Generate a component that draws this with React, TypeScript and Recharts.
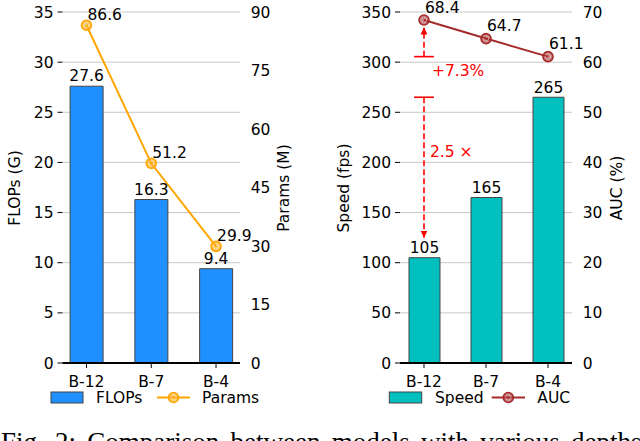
import React from 'react';
import { ComposedChart, Bar, Line, XAxis, YAxis, CartesianGrid, LabelList, ReferenceLine, ReferenceDot } from 'recharts';

const models = ['B-12', 'B-7', 'B-4'];
const flops = [27.6, 16.3, 9.4];
const params = [86.6, 51.2, 29.9];
const speed = [105, 165, 265];
const auc = [68.4, 64.7, 61.1];

const flopsTicks = [0, 5, 10, 15, 20, 25, 30, 35];
const paramsTicks = [0, 15, 30, 45, 60, 75, 90];
const speedTicks = [0, 50, 100, 150, 200, 250, 300, 350];
const aucTicks = [0, 10, 20, 30, 40, 50, 60, 70];

const leftData = models.map((m, i) => ({ idx: i, model: m, flops: flops[i], params: params[i] }));
const rightData = models.map((m, i) => ({ idx: i, model: m, speed: speed[i], auc: auc[i] }));

const FONT = 'DejaVu Sans';
const FS = 15.5;
const BLUE = '#1e90ff';
const CYAN = '#00bfbf';
const ORANGE = '#ffa500';
const BROWN = '#a52a2a';
const RED = '#ff0000';
const GRID = '#c8c8c8';
const EDGE = '#444';

const tickStyle = { fill: '#000', fontSize: FS, fontFamily: FONT };

const Marker = ({ cx, cy, color }: any) => (
  <g>
    <circle cx={cx} cy={cy} r={5} fill={color} fillOpacity={0.6} stroke={color} strokeWidth={1.6} />
    <circle cx={cx} cy={cy} r={2.6} fill="none" stroke="#fff" strokeOpacity={0.8} strokeWidth={0.8} strokeDasharray="1.3 1.1" />
  </g>
);

const dotFor = (color: string) => (p: any) => <Marker key={p.index} cx={p.cx} cy={p.cy} color={color} />;

const pointLabel = (lift: number) => (p: any) => {
  const vb = p.viewBox || {};
  const x = p.x ?? vb.x;
  const y = p.y ?? vb.y;
  return (
    <text x={x + 1} y={y - lift} fontSize={FS} fontFamily={FONT} fill="#000">
      {p.value}
    </text>
  );
};

const arrowShape = (p: any) => (
  <line x1={p.x1} y1={p.y1} x2={p.x2} y2={p.y2} stroke={RED} strokeWidth={1.6} strokeDasharray="6 3" markerEnd="url(#redArrow)" />
);

const redText = (label: string, dx: number) => (p: any) => (
  <text x={p.cx + dx} y={p.cy} fill={RED} fontSize={FS} fontFamily={FONT}>
    {label}
  </text>
);

const xAxisProps = {
  dataKey: 'idx',
  type: 'number' as const,
  ticks: [0, 1, 2],
  tickFormatter: (i: number) => models[i],
  allowDataOverflow: true,
  height: 37,
  axisLine: { stroke: '#000', strokeWidth: 1.8 },
  tickLine: { stroke: '#000' },
  tickSize: 5,
  tickMargin: 7.5,
  tick: tickStyle,
  interval: 0 as const,
};

export default function App() {
  return (
    <div style={{ position: 'absolute', left: 0, top: 0, width: 640, height: 441, overflow: 'hidden', background: '#fff' }}>
      <div style={{ position: 'absolute', left: 0, top: 0 }}>
        <ComposedChart width={320} height={400} data={leftData} margin={{ top: 12, right: 0, bottom: 0, left: 0 }}>
          <CartesianGrid yAxisId="l" vertical={false} stroke={GRID} />
          <XAxis {...xAxisProps} domain={[-0.37, 2.37]} />
          <YAxis yAxisId="l" orientation="left" width={62.5} domain={[0, 35]} ticks={flopsTicks} interval={0}
            axisLine={false} tickLine={{ stroke: '#000' }} tickSize={5} tickMargin={4} tick={tickStyle} />
          <YAxis yAxisId="r" orientation="right" width={80} domain={[0, 90]} ticks={paramsTicks} interval={0}
            axisLine={false} tickLine={false} tickSize={5} tickMargin={5.7} tick={tickStyle} />
          <Bar yAxisId="l" dataKey="flops" fill={BLUE} stroke={EDGE} strokeWidth={1} barSize={33} isAnimationActive={false}>
            <LabelList dataKey="flops" position="top" offset={5} fill="#000" fontSize={FS} fontFamily={FONT} />
          </Bar>
          <Line yAxisId="r" dataKey="params" stroke={ORANGE} strokeWidth={2} dot={dotFor(ORANGE)} activeDot={false} isAnimationActive={false}>
            <LabelList dataKey="params" content={pointLabel(5)} />
          </Line>
        </ComposedChart>
      </div>

      <div style={{ position: 'absolute', left: 320, top: 0 }}>
        <ComposedChart width={320} height={400} data={rightData} margin={{ top: 12, right: 0, bottom: 0, left: 0 }}>
          <defs>
            <marker id="redArrow" viewBox="0 0 10 10" refX="10" refY="5" markerWidth="7" markerHeight="7" markerUnits="userSpaceOnUse" orient="auto">
              <path d="M0,0 L10,5 L0,10 z" fill={RED} />
            </marker>
          </defs>
          <CartesianGrid yAxisId="speed" vertical={false} stroke={GRID} />
          <XAxis {...xAxisProps} domain={[-0.387, 2.387]} />
          <YAxis yAxisId="speed" orientation="left" width={80} domain={[0, 350]} ticks={speedTicks} interval={0}
            axisLine={false} tickLine={{ stroke: '#000' }} tickSize={5} tickMargin={4} tick={tickStyle} />
          <YAxis yAxisId="auc" orientation="right" width={68} domain={[0, 70]} ticks={aucTicks} interval={0}
            axisLine={false} tickLine={false} tickSize={5} tickMargin={5.7} tick={tickStyle} />
          <Bar yAxisId="speed" dataKey="speed" fill={CYAN} stroke={EDGE} strokeWidth={1} barSize={31} isAnimationActive={false}>
            <LabelList dataKey="speed" position="top" offset={4.5} fill="#000" fontSize={FS} fontFamily={FONT} />
          </Bar>
          <ReferenceLine yAxisId="auc" segment={[{ x: -0.16, y: auc[2] }, { x: 0.16, y: auc[2] }]} stroke={RED} strokeWidth={1.6} />
          <ReferenceLine yAxisId="auc" segment={[{ x: 0, y: auc[2] }, { x: 0, y: auc[0] - 1.5 }]} shape={arrowShape} />
          <ReferenceLine yAxisId="speed" segment={[{ x: -0.16, y: speed[2] }, { x: 0.16, y: speed[2] }]} stroke={RED} strokeWidth={1.6} />
          <ReferenceLine yAxisId="speed" segment={[{ x: 0, y: speed[2] }, { x: 0, y: speed[0] + 20 }]} shape={arrowShape} />
          <ReferenceDot yAxisId="auc" x={0} y={57.2} r={0} shape={redText('+7.3%', 8)} />
          <ReferenceDot yAxisId="speed" x={0} y={205} r={0} shape={redText('2.5 \u00d7', 6)} />
          <Line yAxisId="auc" dataKey="auc" stroke={BROWN} strokeWidth={2} dot={dotFor(BROWN)} activeDot={false} isAnimationActive={false}>
            <LabelList dataKey="auc" content={pointLabel(7.5)} />
          </Line>
        </ComposedChart>
      </div>

      <svg width={640} height={441} style={{ position: 'absolute', left: 0, top: 0, pointerEvents: 'none' }} fontFamily={FONT} fontSize={FS}>
        <text transform="translate(14.5,188) rotate(-90)" textAnchor="middle" dominantBaseline="central">FLOPs (G)</text>
        <text transform="translate(283.5,188) rotate(-90)" textAnchor="middle" dominantBaseline="central">Params (M)</text>
        <text transform="translate(343.5,188) rotate(-90)" textAnchor="middle" dominantBaseline="central">Speed (fps)</text>
        <text transform="translate(616.5,188) rotate(-90)" textAnchor="middle" dominantBaseline="central">AUC (%)</text>

        <rect x={51} y={392} width={32} height={11} fill={BLUE} stroke={EDGE} />
        <text x={96} y={403}>FLOPs</text>
        <line x1={157} x2={190} y1={397.5} y2={397.5} stroke={ORANGE} strokeWidth={2} />
        <Marker cx={173.5} cy={397.5} color={ORANGE} />
        <text x={202} y={403}>Params</text>

        <rect x={389.3} y={392} width={32.4} height={11} fill={CYAN} stroke={EDGE} />
        <text x={435} y={403}>Speed</text>
        <line x1={491.7} x2={525} y1={397.5} y2={397.5} stroke={BROWN} strokeWidth={2} />
        <Marker cx={508.3} cy={397.5} color={BROWN} />
        <text x={537.3} y={403}>AUC</text>

        <text x={1} y={451} fontFamily="Liberation Serif" fontSize={27} wordSpacing={4.5}>
          Fig. 2: Comparison between models with various depths.
        </text>
      </svg>
    </div>
  );
}
